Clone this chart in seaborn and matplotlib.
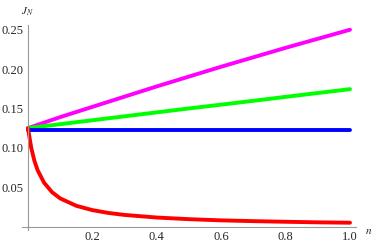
import numpy as np
import pandas as pd
import matplotlib
matplotlib.use("Agg")
import matplotlib.pyplot as plt
import seaborn as sns
from matplotlib.ticker import MultipleLocator, FixedLocator, FormatStrFormatter

# 读图得到的数据
n_red = [0, 0.01, 0.02, 0.03, 0.05, 0.075, 0.1, 0.15, 0.2, 0.25, 0.3,
         0.4, 0.5, 0.6, 0.7, 0.8, 0.9, 1.0]
j_red = [0.125, 0.100, 0.0833, 0.0714, 0.0556, 0.0435, 0.0357, 0.0263, 0.0208,
         0.0172, 0.0147, 0.0114, 0.0093, 0.0078, 0.0068, 0.0060, 0.0053, 0.0048]
n_lin = [0, 0.1, 0.2, 0.3, 0.4, 0.5, 0.6, 0.7, 0.8, 0.9, 1.0]
j_magenta = [0.125, 0.139, 0.152, 0.165, 0.178, 0.1905, 0.203, 0.215, 0.227, 0.2385, 0.25]
j_green = [0.125, 0.130, 0.135, 0.140, 0.145, 0.150, 0.1548, 0.1597, 0.1647, 0.1696, 0.1745]
j_blue = [0.123] * len(n_lin)

sns.set_style("white")
plt.rcParams['font.family'] = ['Liberation Serif', 'DejaVu Serif']
plt.rcParams['mathtext.fontset'] = 'stix'

fig = plt.figure(figsize=(3.74, 2.47), dpi=100)
# 坐标轴位置（像素换算）
x0_px, x1_px = 28, 350
y0_px, ytop_px = 226.5, 25
xmin, xmax = -0.02, 1.02
ymin, ymax = -0.004, 0.256
sx = (x1_px - x0_px) / 1.0
left = (x0_px + xmin * sx) / 374
width = (xmax - xmin) * sx / 374
sy = (y0_px - ytop_px) / ymax
bottom = (247 - y0_px + ymin * sy) / 247
height = (ymax - ymin) * sy / 247
ax = fig.add_axes([left, bottom, width, height])

lw = 2.8
sns.lineplot(x=n_lin, y=j_magenta, color='#FF00FF', lw=lw, ax=ax)
sns.lineplot(x=n_lin, y=j_green, color='#00FF00', lw=lw, ax=ax)
sns.lineplot(x=n_lin, y=j_blue, color='#0000FF', lw=lw, ax=ax)
sns.lineplot(x=n_red, y=j_red, color='#FF0000', lw=lw, ax=ax)

ax.set_xlim(xmin, xmax)
ax.set_ylim(ymin, ymax)
for s in ['top', 'right']:
    ax.spines[s].set_visible(False)
ax.spines['left'].set_position(('data', 0))
ax.spines['bottom'].set_position(('data', 0))
for s in ['left', 'bottom']:
    ax.spines[s].set_color('#999999')
    ax.spines[s].set_linewidth(0.8)

ax.xaxis.set_major_locator(FixedLocator([0.2, 0.4, 0.6, 0.8, 1.0]))
ax.xaxis.set_minor_locator(MultipleLocator(0.05))
ax.yaxis.set_major_locator(FixedLocator([0.05, 0.10, 0.15, 0.20, 0.25]))
ax.yaxis.set_minor_locator(MultipleLocator(0.01))
ax.xaxis.set_major_formatter(FormatStrFormatter('%.1f'))
ax.yaxis.set_major_formatter(FormatStrFormatter('%.2f'))
ax.tick_params(which='major', direction='in', length=3.5, width=0.7,
               color='#999999', labelsize=9, pad=3)
ax.tick_params(which='minor', direction='in', length=2, width=0.6, color='#999999')
ax.set_xlabel('')
ax.set_ylabel('')

fig.text(27 / 374, 1 - 12 / 247, r'$J_N$', fontsize=8, ha='center', va='center')
fig.text(369 / 374, 1 - 231 / 247, r'$n$', fontsize=8, ha='center', va='center')

fig.savefig('out.png', dpi=100)
